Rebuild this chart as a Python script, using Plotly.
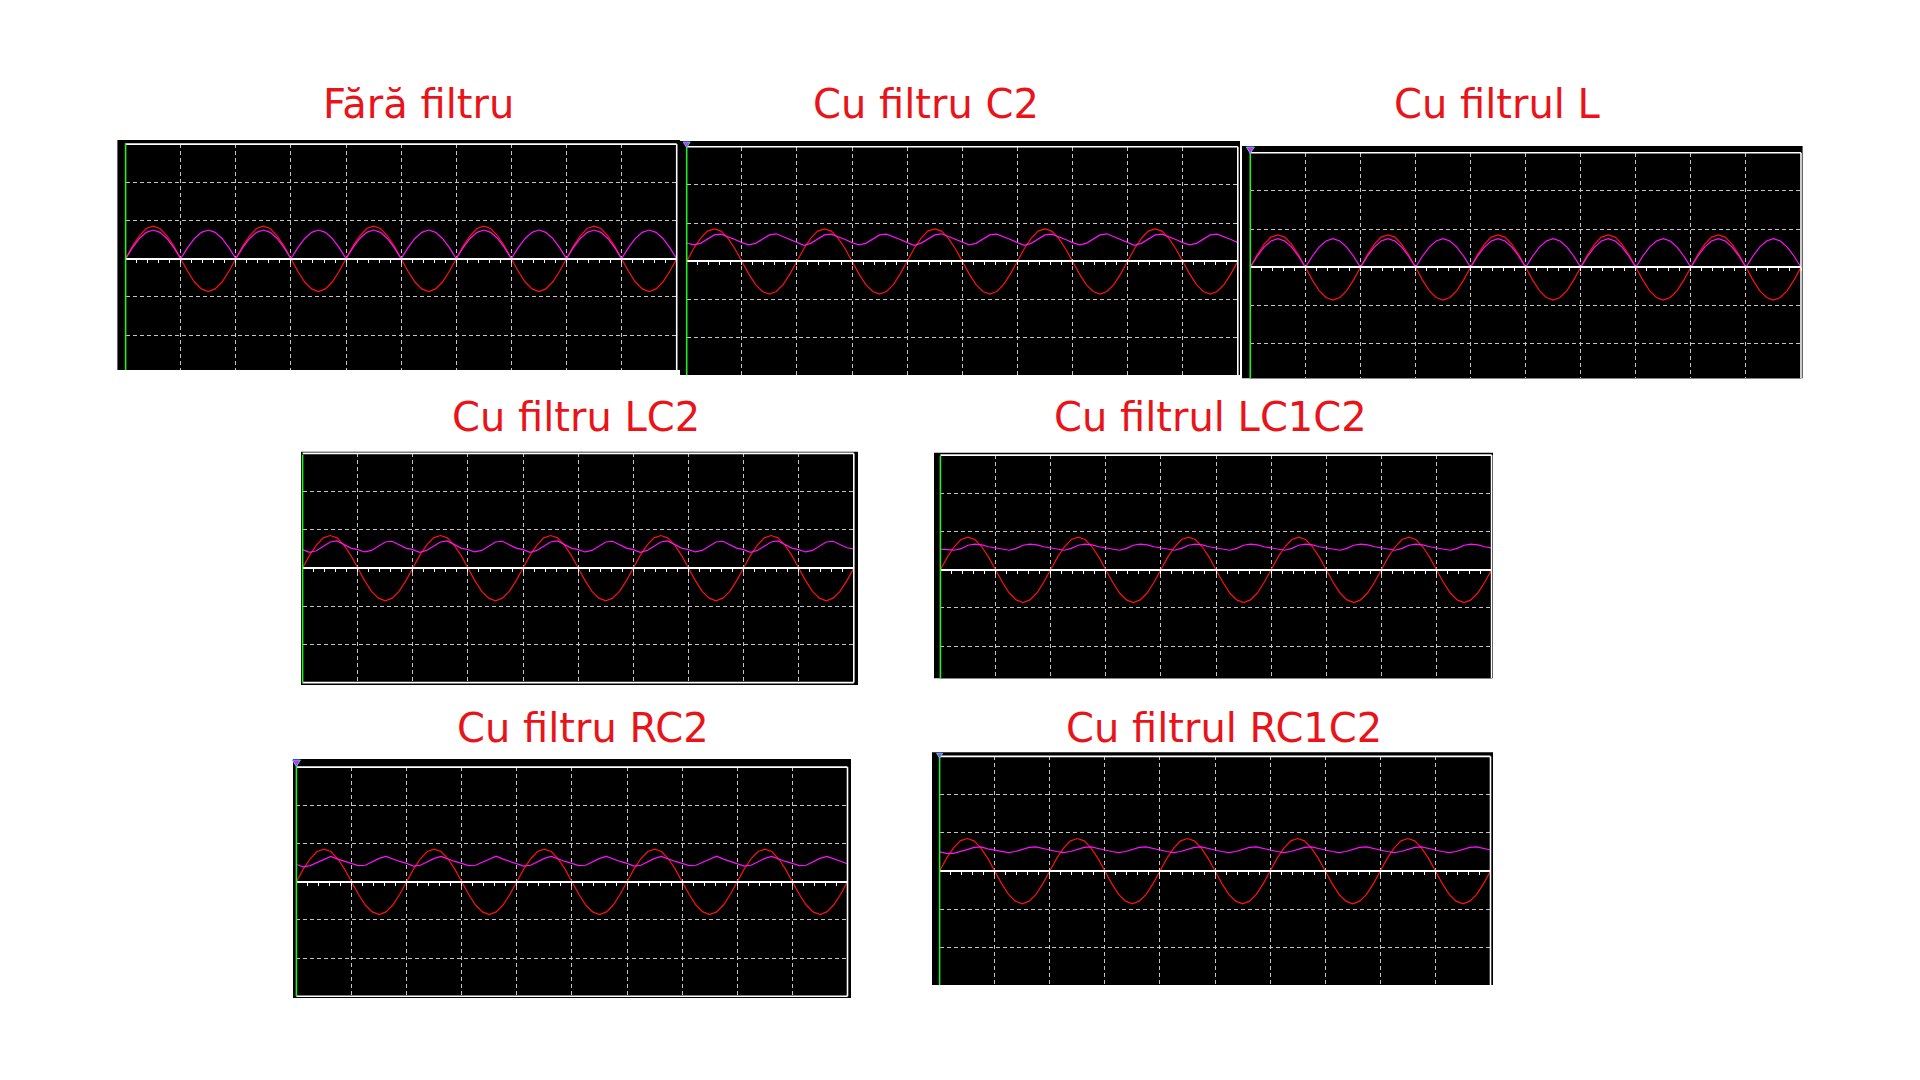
import plotly.graph_objects as go

# ---------------- data (values in screen divisions, time in ms; 10 ms/div) ----------------
time_ms = [round(i * 1.25, 3) for i in range(81)]

titles = ["Fără filtru", "Cu filtru C2", "Cu filtrul L", "Cu filtru LC2",
          "Cu filtrul LC1C2", "Cu filtru RC2", "Cu filtrul RC1C2"]

# red trace: transformer secondary (input) voltage
input_signal = [
    0.00, 0.33, 0.60, 0.79, 0.85, 0.79, 0.60, 0.33,
    0.00, -0.33, -0.61, -0.79, -0.86, -0.79, -0.61, -0.33,
    0.00, 0.33, 0.60, 0.79, 0.85, 0.79, 0.60, 0.33,
    0.00, -0.33, -0.61, -0.79, -0.86, -0.79, -0.61, -0.33,
    0.00, 0.33, 0.60, 0.79, 0.85, 0.79, 0.60, 0.33,
    0.00, -0.33, -0.61, -0.79, -0.86, -0.79, -0.61, -0.33,
    0.00, 0.33, 0.60, 0.79, 0.85, 0.79, 0.60, 0.33,
    0.00, -0.33, -0.61, -0.79, -0.86, -0.79, -0.61, -0.33,
    0.00, 0.33, 0.60, 0.79, 0.85, 0.79, 0.60, 0.33,
    0.00, -0.33, -0.61, -0.79, -0.86, -0.79, -0.61, -0.33,
    0.00,
]

# magenta traces: output voltage for each filter
out_no_filter = [
    0.00, 0.29, 0.53, 0.69, 0.75, 0.69, 0.53, 0.29,
    0.00, 0.29, 0.53, 0.69, 0.75, 0.69, 0.53, 0.29,
    0.00, 0.29, 0.53, 0.69, 0.75, 0.69, 0.53, 0.29,
    0.00, 0.29, 0.53, 0.69, 0.75, 0.69, 0.53, 0.29,
    0.00, 0.29, 0.53, 0.69, 0.75, 0.69, 0.53, 0.29,
    0.00, 0.29, 0.53, 0.69, 0.75, 0.69, 0.53, 0.29,
    0.00, 0.29, 0.53, 0.69, 0.75, 0.69, 0.53, 0.29,
    0.00, 0.29, 0.53, 0.69, 0.75, 0.69, 0.53, 0.29,
    0.00, 0.29, 0.53, 0.69, 0.75, 0.69, 0.53, 0.29,
    0.00, 0.29, 0.53, 0.69, 0.75, 0.69, 0.53, 0.29,
    0.00,
]

out_c2 = [
    0.48, 0.43, 0.47, 0.59, 0.69, 0.71, 0.65, 0.57,
    0.49, 0.43, 0.47, 0.59, 0.69, 0.72, 0.65, 0.57,
    0.49, 0.42, 0.47, 0.59, 0.69, 0.71, 0.65, 0.57,
    0.49, 0.43, 0.47, 0.59, 0.69, 0.71, 0.65, 0.57,
    0.49, 0.42, 0.47, 0.59, 0.69, 0.72, 0.65, 0.57,
    0.49, 0.43, 0.47, 0.59, 0.69, 0.71, 0.65, 0.57,
    0.49, 0.42, 0.47, 0.59, 0.69, 0.71, 0.65, 0.57,
    0.49, 0.43, 0.47, 0.59, 0.69, 0.72, 0.65, 0.57,
    0.49, 0.42, 0.47, 0.59, 0.69, 0.71, 0.65, 0.57,
    0.49, 0.43, 0.47, 0.59, 0.69, 0.71, 0.65, 0.57,
    0.49,
]

out_l = list(out_no_filter)

out_lc2 = [
    0.48, 0.41, 0.45, 0.57, 0.68, 0.71, 0.61, 0.52,
    0.48, 0.42, 0.46, 0.57, 0.68, 0.70, 0.61, 0.52,
    0.48, 0.41, 0.46, 0.57, 0.68, 0.71, 0.61, 0.52,
    0.48, 0.42, 0.46, 0.57, 0.68, 0.70, 0.61, 0.52,
    0.48, 0.41, 0.46, 0.57, 0.68, 0.71, 0.61, 0.52,
    0.48, 0.42, 0.46, 0.57, 0.68, 0.70, 0.61, 0.52,
    0.48, 0.41, 0.46, 0.57, 0.68, 0.71, 0.61, 0.52,
    0.48, 0.42, 0.46, 0.57, 0.68, 0.70, 0.61, 0.52,
    0.48, 0.41, 0.46, 0.57, 0.68, 0.71, 0.61, 0.52,
    0.48, 0.42, 0.46, 0.57, 0.68, 0.70, 0.61, 0.53,
    0.50,
]

out_lc1c2 = [
    0.54, 0.52, 0.51, 0.55, 0.64, 0.67, 0.65, 0.60,
    0.57, 0.54, 0.51, 0.56, 0.64, 0.67, 0.65, 0.60,
    0.57, 0.54, 0.51, 0.56, 0.64, 0.67, 0.65, 0.60,
    0.57, 0.54, 0.51, 0.56, 0.64, 0.67, 0.65, 0.60,
    0.57, 0.54, 0.51, 0.56, 0.64, 0.67, 0.65, 0.60,
    0.57, 0.54, 0.51, 0.56, 0.64, 0.67, 0.65, 0.60,
    0.57, 0.54, 0.51, 0.56, 0.64, 0.67, 0.65, 0.60,
    0.57, 0.54, 0.51, 0.56, 0.64, 0.67, 0.65, 0.60,
    0.57, 0.54, 0.51, 0.56, 0.64, 0.67, 0.65, 0.60,
    0.57, 0.54, 0.51, 0.56, 0.64, 0.67, 0.65, 0.60,
    0.57,
]

out_rc2 = [
    0.45, 0.39, 0.42, 0.50, 0.60, 0.66, 0.59, 0.53,
    0.48, 0.42, 0.43, 0.51, 0.61, 0.66, 0.59, 0.53,
    0.48, 0.41, 0.43, 0.51, 0.61, 0.66, 0.59, 0.53,
    0.48, 0.42, 0.43, 0.51, 0.61, 0.67, 0.59, 0.53,
    0.48, 0.41, 0.43, 0.51, 0.61, 0.66, 0.59, 0.53,
    0.48, 0.42, 0.43, 0.51, 0.61, 0.66, 0.59, 0.53,
    0.48, 0.41, 0.43, 0.51, 0.61, 0.66, 0.59, 0.53,
    0.48, 0.42, 0.43, 0.51, 0.61, 0.67, 0.59, 0.53,
    0.48, 0.41, 0.43, 0.51, 0.61, 0.66, 0.59, 0.53,
    0.48, 0.42, 0.43, 0.51, 0.61, 0.66, 0.59, 0.53,
    0.47,
]

out_rc1c2 = [
    0.50, 0.46, 0.46, 0.50, 0.56, 0.62, 0.63, 0.58,
    0.55, 0.51, 0.48, 0.51, 0.56, 0.62, 0.63, 0.58,
    0.55, 0.51, 0.48, 0.51, 0.56, 0.62, 0.63, 0.58,
    0.55, 0.51, 0.48, 0.51, 0.56, 0.62, 0.63, 0.58,
    0.55, 0.51, 0.48, 0.51, 0.56, 0.62, 0.63, 0.58,
    0.55, 0.51, 0.48, 0.51, 0.56, 0.62, 0.63, 0.58,
    0.55, 0.51, 0.48, 0.51, 0.56, 0.62, 0.63, 0.58,
    0.55, 0.51, 0.48, 0.51, 0.56, 0.62, 0.63, 0.58,
    0.55, 0.51, 0.48, 0.51, 0.56, 0.62, 0.63, 0.58,
    0.55, 0.51, 0.48, 0.51, 0.56, 0.62, 0.63, 0.58,
    0.55,
]

outputs = [out_no_filter, out_c2, out_l, out_lc2, out_lc1c2, out_rc2, out_rc1c2]

# ---------------- layout geometry (pixels on a 1920x1080 page) ----------------
W, H = 1920, 1080
DIV_Y = 38.2
panels = [
    dict(x0=125.6, x1=676.7, yc=258.7, box=(117.4, 140.0, 680.0, 370.0), bottom=False, title=(418.0, 104.3)),
    dict(x0=686.7, x1=1237.8, yc=261.3, box=(680.0, 141.0, 1240.0, 375.0), bottom=False, title=(925.8, 104.3)),
    dict(x0=1250.3, x1=1801.0, yc=267.3, box=(1242.0, 146.0, 1802.6, 378.3), bottom=False, title=(1497.0, 104.3)),
    dict(x0=302.6, x1=853.8, yc=568.0, box=(301.0, 451.7, 858.0, 685.0), bottom=True, title=(576.0, 417.2)),
    dict(x0=940.4, x1=1491.6, yc=569.7, box=(934.0, 452.7, 1493.0, 678.3), bottom=False, title=(1210.8, 417.2)),
    dict(x0=296.4, x1=847.5, yc=881.7, box=(293.0, 759.0, 851.0, 998.0), bottom=True, title=(583.0, 728.4)),
    dict(x0=939.6, x1=1490.5, yc=871.0, box=(932.0, 752.3, 1493.0, 985.0), bottom=False, title=(1223.7, 728.4)),
]
trigger_marks = {1: 7, 2: 8, 5: 8, 6: 6}  # panel index -> marker size (px)

RED = "#ff1010"
MAGENTA = "#ff10ff"
GREEN = "#22ee22"
GRID = "#c4c4c4"
TITLE_RED = "#e8141a"

fig = go.Figure()
layout_axes = {}
shapes = []
annotations = []

for i, (geo, title, out) in enumerate(zip(panels, titles, outputs)):
    n = i + 1
    xid = "x" if n == 1 else f"x{n}"
    yid = "y" if n == 1 else f"y{n}"
    xkey = "xaxis" if n == 1 else f"xaxis{n}"
    ykey = "yaxis" if n == 1 else f"yaxis{n}"

    fig.add_trace(go.Scatter(x=time_ms, y=input_signal, xaxis=xid, yaxis=yid, mode="lines",
                             line=dict(color=RED, width=1.2), hoverinfo="skip", showlegend=False))
    fig.add_trace(go.Scatter(x=time_ms, y=out, xaxis=xid, yaxis=yid, mode="lines",
                             line=dict(color=MAGENTA, width=1.2), hoverinfo="skip", showlegend=False))

    yc = geo["yc"]
    ytop = yc - 3 * DIV_Y
    ybot = min(yc + 3 * DIV_Y, geo["box"][3])
    yrange_bottom = -(ybot - yc) / DIV_Y

    layout_axes[xkey] = dict(
        domain=[geo["x0"] / W, geo["x1"] / W], range=[0, 100], anchor="free",
        position=1 - yc / H, showline=True, linecolor="white", linewidth=1.6,
        ticks="outside", ticklen=3, tickwidth=1, tickcolor="white", tick0=0, dtick=10,
        showticklabels=False, showgrid=True, gridcolor=GRID, gridwidth=1, griddash="4px,3px",
        zeroline=False, fixedrange=True,
        minor=dict(dtick=2, tick0=0, ticks="outside", ticklen=3, tickwidth=1,
                   tickcolor="white", showgrid=False),
    )
    layout_axes[ykey] = dict(
        domain=[1 - ybot / H, 1 - ytop / H], range=[yrange_bottom, 3], anchor=xid,
        showline=False, ticks="", showticklabels=False, tick0=0, dtick=1,
        showgrid=True, gridcolor=GRID, gridwidth=1, griddash="4px,3px",
        zeroline=False, fixedrange=True,
    )

    l, t, r, b = geo["box"]
    shapes.append(dict(type="rect", xref="paper", yref="paper", x0=l / W, x1=r / W,
                       y0=1 - b / H, y1=1 - t / H, fillcolor="black", line=dict(width=0),
                       layer="below"))
    xd, yd = f"{xid} domain", f"{yid} domain"
    border = dict(color="white", width=1.6)
    shapes.append(dict(type="line", xref=xd, yref=yd, x0=0, x1=1, y0=1, y1=1, line=border))
    shapes.append(dict(type="line", xref=xd, yref=yd, x0=1, x1=1, y0=0, y1=1, line=border))
    if geo["bottom"]:
        shapes.append(dict(type="line", xref=xd, yref=yd, x0=0, x1=1, y0=0, y1=0, line=border))
    shapes.append(dict(type="line", xref=xd, yref="paper", x0=0, x1=0,
                       y0=1 - ybot / H, y1=1 - (t + 3) / H, line=dict(color=GREEN, width=1.6)))

    if i in trigger_marks:
        s = trigger_marks[i]
        cx, ty = geo["x0"], t + 1
        path = (f"M {(cx - s / 2) / W},{1 - ty / H} L {(cx + s / 2) / W},{1 - ty / H} "
                f"L {cx / W},{1 - (ty + s * 0.8) / H} Z")
        shapes.append(dict(type="path", xref="paper", yref="paper", path=path,
                           fillcolor=MAGENTA, line=dict(color="#22dddd", width=1)))

    tx, ty = geo["title"]
    annotations.append(dict(text=title, xref="paper", yref="paper", x=tx / W, y=1 - ty / H,
                            xanchor="center", yanchor="middle", showarrow=False,
                            font=dict(family="DejaVu Sans, Verdana, sans-serif", size=40,
                                      color=TITLE_RED)))

fig.update_layout(
    width=W, height=H, margin=dict(l=0, r=0, t=0, b=0),
    paper_bgcolor="white", plot_bgcolor="black", showlegend=False,
    shapes=shapes, annotations=annotations, **layout_axes,
)

fig.write_html("out.html", config={"displayModeBar": False},
               post_script="document.body.style.margin='0';")
